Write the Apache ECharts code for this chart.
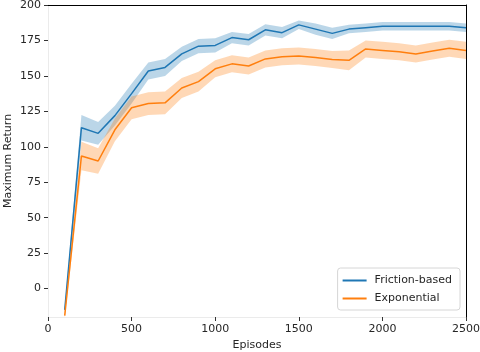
<!DOCTYPE html>
<html>
<head>
<meta charset="utf-8">
<script src="https://cdn.jsdelivr.net/npm/echarts@6/dist/echarts.min.js"></script>
<style>
  html, body { margin: 0; padding: 0; background: #fff; }
  #main { width: 480px; height: 352px; }
</style>
</head>
<body>
<div id="main"></div>
<script>
// episodes (x)
var episodes = [100, 200, 300, 400, 500, 600, 700, 800, 900, 1000, 1100, 1200, 1300,
                1400, 1500, 1600, 1700, 1800, 1900, 2000, 2100, 2200, 2300, 2400, 2500];

// Friction-based mean and band half width
var frictionMean = [-15, 113.5, 109.5, 122, 137.5, 153.5, 156, 165.5, 171, 171.5, 177, 175.5, 182.5,
                    180.5, 186, 183, 180, 183, 184, 185, 185, 185, 185, 185, 184];
var frictionSpread = [2, 9, 8, 7, 7, 6, 6, 5, 5, 5, 4, 4, 4,
                      4, 3, 4, 4, 3, 3, 3, 3, 3, 3, 3, 3];

// Exponential mean and band half width
var expMean = [-19, 93.5, 90, 112, 127.5, 130.5, 131, 141.5, 146, 155, 158.5, 157, 162,
               163.5, 164, 163, 161.5, 161, 169, 168, 167, 165.5, 167.5, 169.5, 168];
var expSpread = [2, 10, 9, 8, 8, 8, 8, 7, 7, 6, 6, 6, 6,
                 6, 6, 6, 6, 7, 6, 6, 6, 6, 6, 6, 6];

var yTicks = [0, 25, 50, 75, 100, 125, 150, 175, 200];

function pairs(xs, ys) {
    return xs.map(function (x, i) { return [x, ys[i]]; });
}

// band drawn as one polygon through the axis scales
function band(mean, spread, color) {
    return {
        type: 'custom',
        silent: true,
        z: 1,
        data: [0],
        renderItem: function (params, api) {
            var pts = [];
            for (var i = 0; i < episodes.length; i++) {
                pts.push(api.coord([episodes[i], mean[i] + spread[i]]));
            }
            for (var j = episodes.length - 1; j >= 0; j--) {
                pts.push(api.coord([episodes[j], mean[j] - spread[j]]));
            }
            return {
                type: 'polygon',
                shape: { points: pts },
                style: { fill: color },
                clipPath: {
                    type: 'rect',
                    shape: {
                        x: params.coordSys.x, y: params.coordSys.y,
                        width: params.coordSys.width, height: params.coordSys.height
                    }
                }
            };
        }
    };
}

var font = 'DejaVu Sans';
var txt = '#262626';
var myChart = echarts.init(document.getElementById('main'));

var option = {
    animation: false,
    backgroundColor: '#fff',
    textStyle: { fontFamily: font },
    grid: { left: 48, right: 14, top: 5, bottom: 35, outerBoundsMode: 'none', containLabel: false },
    legend: {
        data: ['Friction-based', 'Exponential'],
        orient: 'vertical',
        right: 20,
        bottom: 42,
        icon: 'rect',
        itemWidth: 24,
        itemHeight: 2,
        itemGap: 7,
        padding: [7, 8, 6, 5],
        borderColor: '#d6d6d6',
        borderWidth: 1,
        borderRadius: 3,
        textStyle: { fontFamily: font, fontSize: 11, color: txt, padding: [0, 0, 0, 3] }
    },
    xAxis: [{
        type: 'value',
        min: 0, max: 2500, interval: 500,
        name: 'Episodes',
        nameLocation: 'middle',
        nameGap: 23,
        nameMoveOverlap: false,
        nameTextStyle: { fontFamily: font, fontSize: 11, color: txt },
        axisLine: { show: true, onZero: false, lineStyle: { color: '#ebebeb', width: 1 } },
        axisTick: { show: true, length: 4, lineStyle: { color: '#333' } },
        axisLabel: { fontFamily: font, fontSize: 11, color: txt, margin: 7,
                     formatter: function (v) { return String(v); } },
        splitLine: { show: false }
    }, {
        type: 'value',
        position: 'top',
        min: 0, max: 2500, interval: 500,
        axisLine: { show: true, onZero: false, lineStyle: { color: '#000', width: 1 } },
        axisTick: { show: false },
        axisLabel: { show: false },
        splitLine: { show: false }
    }],
    yAxis: [{
        type: 'value',
        min: -20, max: 200,
        name: 'Maximum Return',
        nameLocation: 'middle',
        nameGap: 34,
        nameMoveOverlap: false,
        nameTextStyle: { fontFamily: font, fontSize: 11, color: txt },
        axisLine: { show: true, onZero: false, lineStyle: { color: '#ebebeb', width: 1 } },
        axisTick: { show: true, length: 4, customValues: yTicks, lineStyle: { color: '#333' } },
        axisLabel: { fontFamily: font, fontSize: 11, color: txt, margin: 7, customValues: yTicks },
        splitLine: { show: false }
    }, {
        type: 'value',
        position: 'right',
        min: -20, max: 200,
        axisLine: { show: true, onZero: false, lineStyle: { color: '#000', width: 1 } },
        axisTick: { show: false },
        axisLabel: { show: false },
        splitLine: { show: false }
    }],
    series: [
        band(frictionMean, frictionSpread, 'rgba(31,119,180,0.3)'),
        band(expMean, expSpread, 'rgba(255,127,14,0.3)'),
        {
            name: 'Friction-based',
            type: 'line',
            z: 3,
            data: pairs(episodes, frictionMean),
            showSymbol: false,
            itemStyle: { color: '#1f77b4' },
            lineStyle: { color: '#1f77b4', width: 1.5 }
        },
        {
            name: 'Exponential',
            type: 'line',
            z: 3,
            data: pairs(episodes, expMean),
            showSymbol: false,
            itemStyle: { color: '#ff7f0e' },
            lineStyle: { color: '#ff7f0e', width: 1.5 }
        }
    ]
};

myChart.setOption(option);
</script>
</body>
</html>
